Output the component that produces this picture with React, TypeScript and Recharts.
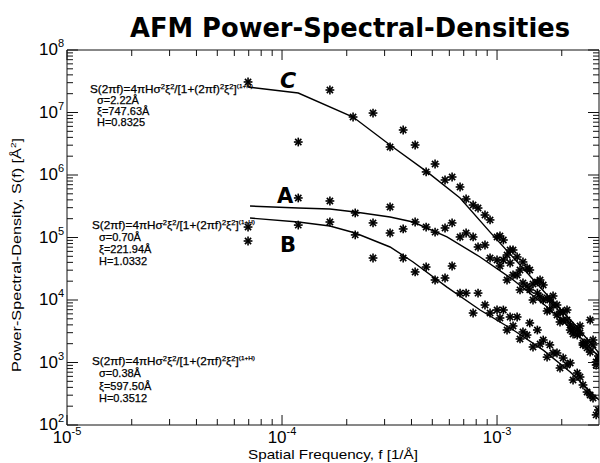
import React from 'react';
import { ComposedChart, XAxis, YAxis, Scatter, Line } from 'recharts';

// ---- data: measured PSD points (f [1/Å], S) ----
const freqC = [6.95e-5, 1.19e-4, 1.67e-4, 2.14e-4, 2.65e-4, 3.18e-4, 3.66e-4, 4.16e-4, 4.68e-4, 5.15e-4, 5.73e-4, 6.18e-4, 6.73e-4, 7.18e-4, 7.74e-4, 8.16e-4, 8.79e-4, 9.28e-4, 1.0e-3, 1.07e-3, 1.15e-3, 1.24e-3, 1.32e-3, 1.42e-3, 1.54e-3, 1.64e-3, 1.76e-3, 1.9e-3, 2.03e-3, 2.19e-3, 2.36e-3, 2.51e-3, 2.71e-3, 2.89e-3,
  1.032e-3, 1.113e-3, 1.187e-3, 1.279e-3, 1.379e-3, 1.47e-3, 1.585e-3, 1.709e-3, 1.822e-3, 1.963e-3, 2.116e-3, 2.257e-3, 2.432e-3, 2.622e-3, 2.796e-3, 2.96e-3];
const psdC = [3.08e7, 3.37e6, 2.29e7, 8.47e6, 9.8e6, 2.81e6, 5.25e6, 3.02e6, 1.12e6, 1.5e6, 8.32e5, 9.29e5, 6.43e5, 4.13e5, 3.31e5, 2.96e5, 2.29e5, 1.91e5, 1.02e5, 9.12e4, 6.31e4, 4.88e4, 4.06e4, 3.02e4, 1.94e4, 1.74e4, 1.0e4, 8.32e3, 6.43e3, 3.98e3, 3.31e3, 2.05e3, 1.47e3, 912,
  1.057e5, 5.25e4, 6.31e4, 3.02e4, 3.25e4, 1.8e4, 2.09e4, 1.08e4, 1.16e4, 6.43e3, 6.92e3, 3.56e3, 3.84e3, 2.13e3, 2.29e3, 1.27e3];

const freqA = [6.95e-5, 1.19e-4, 1.67e-4, 2.19e-4, 2.65e-4, 3.18e-4, 3.66e-4, 4.16e-4, 4.68e-4, 5.15e-4, 5.73e-4, 6.18e-4, 6.73e-4, 7.18e-4, 7.74e-4, 8.16e-4, 8.79e-4, 9.28e-4, 1.0e-3, 1.07e-3, 1.15e-3, 1.24e-3, 1.32e-3, 1.42e-3, 1.54e-3, 1.64e-3, 1.76e-3, 1.9e-3, 2.03e-3, 2.19e-3, 2.36e-3, 2.51e-3, 2.71e-3, 2.89e-3,
  1.032e-3, 1.113e-3, 1.187e-3, 1.279e-3, 1.379e-3, 1.47e-3, 1.585e-3, 1.709e-3, 1.822e-3, 1.963e-3, 2.116e-3, 2.257e-3, 2.432e-3, 2.622e-3, 2.796e-3, 2.96e-3];
const psdA = [1.47e5, 4.29e5, 3.84e5, 2.47e5, 1.71e5, 3.08e5, 1.37e5, 1.77e5, 1.47e5, 1.22e5, 1.42e5, 1.71e5, 1.02e5, 1.18e5, 1.02e5, 7.05e4, 7.59e4, 4.7e4, 4.37e4, 4.37e4, 3.91e4, 2.51e4, 1.87e4, 1.45e4, 1.29e4, 1.0e4, 6.92e3, 5.75e3, 4.79e3, 3.31e3, 2.75e3, 1.91e3, 4.79e3, 1.02e3,
  3.5e4, 2.09e4, 2.51e4, 1.45e4, 1.67e4, 1.0e4, 1.12e4, 6.67e3, 8.32e3, 4.45e3, 4.79e3, 2.86e3, 2.96e3, 1.71e3, 1.91e3, 1.1e3];

const freqB = [6.95e-5, 1.19e-4, 1.67e-4, 2.19e-4, 2.65e-4, 3.18e-4, 3.66e-4, 4.16e-4, 4.68e-4, 5.15e-4, 5.73e-4, 6.18e-4, 6.73e-4, 7.18e-4, 7.74e-4, 8.16e-4, 8.79e-4, 9.28e-4, 1.0e-3, 1.07e-3, 1.15e-3, 1.24e-3, 1.32e-3, 1.42e-3, 1.54e-3, 1.64e-3, 1.76e-3, 1.9e-3, 2.03e-3, 2.19e-3, 2.36e-3, 2.51e-3, 2.71e-3, 2.89e-3,
  1.032e-3, 1.113e-3, 1.187e-3, 1.279e-3, 1.379e-3, 1.47e-3, 1.585e-3, 1.709e-3, 1.822e-3, 1.963e-3, 2.116e-3, 2.257e-3, 2.432e-3, 2.622e-3, 2.796e-3, 2.96e-3];
const psdB = [8.79e4, 1.58e5, 1.77e5, 1.1e5, 4.7e4, 1.18e5, 4.7e4, 2.81e4, 3.37e4, 2.09e4, 2.25e4, 3.5e4, 1.29e4, 1.29e4, 6.19e3, 1.29e4, 8.32e3, 6.19e3, 6.92e3, 6.92e3, 5.35e3, 5.35e3, 3.08e3, 4.29e3, 3.31e3, 2.29e3, 1.91e3, 1.42e3, 1.18e3, 982, 679, 437, 302, 145,
  5.15e3, 3.31e3, 3.84e3, 2.38e3, 2.75e3, 1.77e3, 1.98e3, 1.22e3, 1.42e3, 817, 912, 525, 586, 337, 270, 174];

// ---- fitted model curves ----
const fitFreqC = [6.95e-5, 1.19e-4, 2.14e-4, 3.18e-4, 4.73e-4, 6.73e-4, 9.28e-4, 1.28e-3, 1.76e-3, 2.31e-3, 2.98e-3];
const fitPsdC = [2.56e7, 2.05e7, 8.47e6, 3.02e6, 1.12e6, 4.29e5, 1.22e5, 3.63e4, 1.08e4, 3.98e3, 1.42e3];
const fitFreqA = [7.1e-5, 1.19e-4, 1.67e-4, 2.19e-4, 3.18e-4, 4.07e-4, 5.85e-4, 8.34e-4, 1.19e-3, 1.71e-3, 2.43e-3, 2.98e-3];
const fitPsdA = [3.19e5, 2.96e5, 2.86e5, 2.56e5, 2.13e5, 1.77e5, 1.02e5, 4.88e4, 2.09e4, 7.73e3, 2.56e3, 1.22e3];
const fitFreqB = [7.1e-5, 1.19e-4, 1.67e-4, 2.19e-4, 3.18e-4, 4.07e-4, 5.85e-4, 8.34e-4, 1.19e-3, 1.64e-3, 2.19e-3, 2.98e-3];
const fitPsdB = [2.05e5, 1.77e5, 1.53e5, 1.18e5, 7.05e4, 4.06e4, 1.61e4, 6.92e3, 3.31e3, 1.58e3, 705, 251];

// ---- axes ----
const xDecades = [1e-5, 1e-4, 1e-3];
const yDecades = [1e2, 1e3, 1e4, 1e5, 1e6, 1e7];
const xMax = 2.98e-3;
const yTop = 1e8;
const multipliers = [1, 2, 3, 4, 5, 6, 7, 8, 9];

const title = 'AFM Power-Spectral-Densities';
const xTitle = 'Spatial Frequency, f [1/Å]';
const yTitle = 'Power-Spectral-Density, S(f) [Å';
const fits = [
  { sigma: 'σ=2.22Å', xi: 'ξ=747.63Å', h: 'H=0.8325' },
  { sigma: 'σ=0.70Å', xi: 'ξ=221.94Å', h: 'H=1.0332' },
  { sigma: 'σ=0.38Å', xi: 'ξ=597.50Å', h: 'H=0.3512' },
];

const zip = (f: number[], s: number[]) => f.map((v, i) => ({ f: v, S: s[i] }));
const ptsC = zip(freqC, psdC);
const ptsA = zip(freqA, psdA);
const ptsB = zip(freqB, psdB);
const lineC = zip(fitFreqC, fitPsdC);
const lineA = zip(fitFreqA, fitPsdA);
const lineB = zip(fitFreqB, fitPsdB);

const xTicks: number[] = [];
xDecades.forEach((d) => multipliers.forEach((m) => { const v = d * m; if (v <= xMax * 1.0001) xTicks.push(v); }));
const yTicks: number[] = [];
yDecades.forEach((d) => multipliers.forEach((m) => yTicks.push(d * m)));
yTicks.push(yTop);

const isMajor = (v: number) => Math.abs(Math.log10(v) - Math.round(Math.log10(v))) < 1e-6;
const expOf = (v: number) => String(Math.round(Math.log10(v)));

const AX = '#111';
const LBL = "'Liberation Sans', Arial, Helvetica, sans-serif";

const XTickBottom = (p: any) => {
  const { x, y, payload } = p;
  const v = payload.value;
  const maj = isMajor(v);
  return (
    <g>
      <line x1={x} x2={x} y1={y} y2={y - (maj ? 10 : 6)} stroke={AX} strokeWidth={1} />
      {maj && (
        <text x={x} y={y + 18} textAnchor="middle" fontFamily={LBL} fontSize={17} fill="#000">
          10<tspan fontSize={11} dy={-8}>{expOf(v)}</tspan>
        </text>
      )}
    </g>
  );
};
const XTickTop = (p: any) => {
  const { x, y, payload } = p;
  const maj = isMajor(payload.value);
  return <line x1={x} x2={x} y1={y} y2={y + (maj ? 10 : 6)} stroke={AX} strokeWidth={1} />;
};
const YTickLeft = (p: any) => {
  const { x, y, payload } = p;
  const v = payload.value;
  const maj = isMajor(v);
  return (
    <g>
      <line x1={x} x2={x + (maj ? 11 : 6)} y1={y} y2={y} stroke={AX} strokeWidth={1} />
      {maj && (
        <text x={x - 3} y={y + 5} textAnchor="end" fontFamily={LBL} fontSize={17} fill="#000">
          10<tspan fontSize={11} dy={-8}>{expOf(v)}</tspan>
        </text>
      )}
    </g>
  );
};
const YTickRight = (p: any) => {
  const { x, y, payload } = p;
  const maj = isMajor(payload.value);
  return <line x1={x} x2={x - (maj ? 11 : 6)} y1={y} y2={y} stroke={AX} strokeWidth={1} />;
};

const Asterisk = (props: any) => {
  const { cx, cy } = props;
  if (cx == null || cy == null || isNaN(cx) || isNaN(cy)) return null;
  const r = 4.4;
  const d = r * 0.7071;
  return (
    <g stroke="#000" strokeWidth={1.6}>
      <line x1={cx - r} y1={cy} x2={cx + r} y2={cy} />
      <line x1={cx} y1={cy - r} x2={cx} y2={cy + r} />
      <line x1={cx - d} y1={cy - d} x2={cx + d} y2={cy + d} />
      <line x1={cx - d} y1={cy + d} x2={cx + d} y2={cy - d} />
    </g>
  );
};

const TXT = { fontFamily: LBL, fontSize: 11, fill: '#000', stroke: '#000', strokeWidth: 0.25 };

const Formula = ({ x, y }: { x: number; y: number }) => (
  <text x={x} y={y} {...TXT} textLength={163} lengthAdjust="spacingAndGlyphs">
    S(2πf)=4πHσ<tspan fontSize={7} dy={-4}>2</tspan>
    <tspan dy={4}>ξ</tspan><tspan fontSize={7} dy={-4}>2</tspan>
    <tspan dy={4}>/[1+(2πf)</tspan><tspan fontSize={7} dy={-4}>2</tspan>
    <tspan dy={4}>ξ</tspan><tspan fontSize={7} dy={-4}>2</tspan>
    <tspan dy={4}>]</tspan><tspan fontSize={6} dy={-5}>(1+H)</tspan>
  </text>
);

const FitBlock = ({ x, y, i, gap }: { x: number; y: number; i: number; gap: number }) => (
  <g>
    <Formula x={x} y={y} />
    <text x={x + 7} y={y + gap} {...TXT}>{fits[i].sigma}</text>
    <text x={x + 7} y={y + gap * 2} {...TXT}>{fits[i].xi}</text>
    <text x={x + 7} y={y + gap * 3} {...TXT}>{fits[i].h}</text>
  </g>
);

const HAND = "'Comic Sans MS', 'DejaVu Sans', sans-serif";

export default function App() {
  return (
    <div style={{ position: 'absolute', left: 0, top: 0, width: 600, height: 463, background: '#fff', overflow: 'hidden' }}>
      <ComposedChart width={600} height={463} margin={{ top: 49, right: 0, bottom: 0, left: 0 }}>
        <XAxis xAxisId="b" dataKey="f" type="number" scale="log" domain={[1e-5, xMax]} allowDataOverflow
          ticks={xTicks} interval={0} tick={(p: any) => <XTickBottom {...p} />} tickLine={false} tickSize={0} tickMargin={0}
          axisLine={{ stroke: AX, strokeWidth: 1 }} height={38} orientation="bottom" />
        <XAxis xAxisId="t" dataKey="f" type="number" scale="log" domain={[1e-5, xMax]} allowDataOverflow
          ticks={xTicks} interval={0} tick={(p: any) => <XTickTop {...p} />} tickLine={false} tickSize={0} tickMargin={0}
          axisLine={{ stroke: AX, strokeWidth: 1 }} height={1} orientation="top" />
        <YAxis yAxisId="l" dataKey="S" type="number" scale="log" domain={[1e2, yTop]} allowDataOverflow
          ticks={yTicks} interval={0} tick={(p: any) => <YTickLeft {...p} />} tickLine={false} tickSize={0} tickMargin={0}
          axisLine={{ stroke: AX, strokeWidth: 1 }} width={67} orientation="left" />
        <YAxis yAxisId="r" dataKey="S" type="number" scale="log" domain={[1e2, yTop]} allowDataOverflow
          ticks={yTicks} interval={0} tick={(p: any) => <YTickRight {...p} />} tickLine={false} tickSize={0} tickMargin={0}
          axisLine={{ stroke: AX, strokeWidth: 1 }} width={1} orientation="right" />
        <Line xAxisId="b" yAxisId="l" data={lineC} dataKey="S" type="linear" stroke="#000" strokeWidth={1.4} dot={false} isAnimationActive={false} />
        <Line xAxisId="b" yAxisId="l" data={lineA} dataKey="S" type="linear" stroke="#000" strokeWidth={1.4} dot={false} isAnimationActive={false} />
        <Line xAxisId="b" yAxisId="l" data={lineB} dataKey="S" type="linear" stroke="#000" strokeWidth={1.4} dot={false} isAnimationActive={false} />
        <Scatter xAxisId="b" yAxisId="l" data={ptsC} dataKey="S" shape={(p: any) => <Asterisk {...p} />} isAnimationActive={false} />
        <Scatter xAxisId="b" yAxisId="l" data={ptsA} dataKey="S" shape={(p: any) => <Asterisk {...p} />} isAnimationActive={false} />
        <Scatter xAxisId="b" yAxisId="l" data={ptsB} dataKey="S" shape={(p: any) => <Asterisk {...p} />} isAnimationActive={false} />
      </ComposedChart>
      <svg width={600} height={463} style={{ position: 'absolute', left: 0, top: 0, pointerEvents: 'none' }}>
        <text x={130} y={37} fontFamily={HAND} fontWeight="bold" fontSize={27} fill="#000" textLength={440} lengthAdjust="spacingAndGlyphs">{title}</text>
        <text x={248} y={459} fontFamily={LBL} fontSize={13} fill="#000" textLength={170} lengthAdjust="spacingAndGlyphs">{xTitle}</text>
        <text transform="translate(21,372) rotate(-90)" fontFamily={LBL} fontSize={13} fill="#000" textLength={234} lengthAdjust="spacingAndGlyphs">
          {yTitle}<tspan fontSize={8} dy={-5}>2</tspan><tspan dy={5}>]</tspan>
        </text>
        <FitBlock x={90} y={93} i={0} gap={11} />
        <FitBlock x={92} y={229} i={1} gap={12} />
        <FitBlock x={92} y={365} i={2} gap={12.3} />
        <text x={280} y={88} fontFamily={HAND} fontWeight="bold" fontStyle="italic" fontSize={22} fill="#000">C</text>
        <text x={277} y={203} fontFamily={HAND} fontWeight="bold" fontSize={21} fill="#000">A</text>
        <text x={280} y={252} fontFamily={HAND} fontWeight="bold" fontSize={21} fill="#000">B</text>
      </svg>
    </div>
  );
}
